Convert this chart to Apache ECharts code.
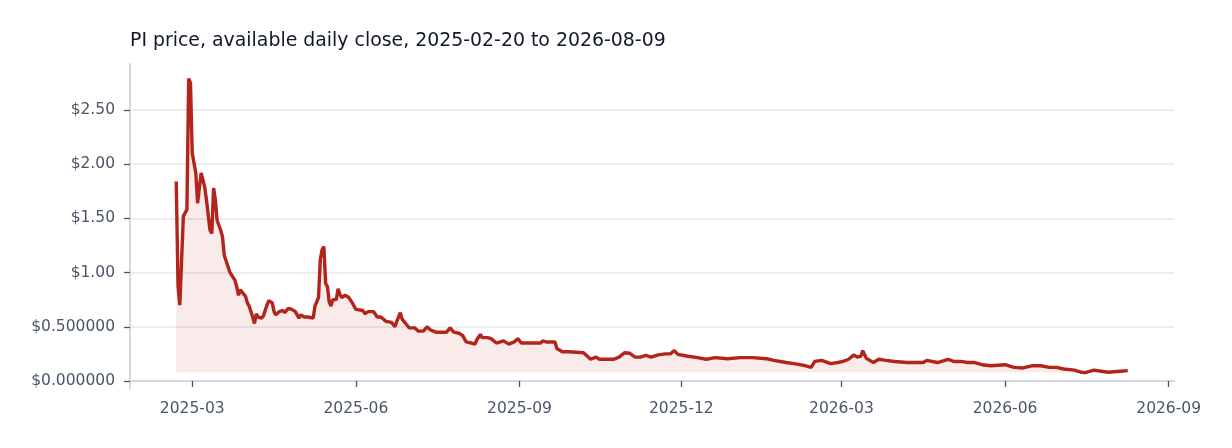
<!DOCTYPE html>
<html>
<head>
<meta charset="utf-8">
<title>PI price</title>
<script src="https://cdn.jsdelivr.net/npm/echarts@6/dist/echarts.min.js"></script>
<style>
  html,body{margin:0;padding:0;background:#fff}
  #chart{width:1232px;height:448px}
</style>
</head>
<body>
<div id="chart"></div>
<script>
// daily close readings
var dates = [
  '2025-02-20','2025-02-21','2025-02-22','2025-02-24','2025-02-25','2025-02-26','2025-02-27','2025-02-28','2025-03-01','2025-03-03',
  '2025-03-04','2025-03-06','2025-03-08','2025-03-09','2025-03-11','2025-03-12','2025-03-13','2025-03-14','2025-03-15','2025-03-17',
  '2025-03-18','2025-03-19','2025-03-20','2025-03-22','2025-03-23','2025-03-25','2025-03-26','2025-03-27','2025-03-28','2025-03-29',
  '2025-03-31','2025-04-01','2025-04-02','2025-04-04','2025-04-05','2025-04-06','2025-04-07','2025-04-09','2025-04-10','2025-04-11',
  '2025-04-12','2025-04-13','2025-04-14','2025-04-15','2025-04-16','2025-04-17','2025-04-19','2025-04-21','2025-04-22','2025-04-24',
  '2025-04-26','2025-04-28','2025-04-30','2025-05-01','2025-05-03','2025-05-05','2025-05-08','2025-05-09','2025-05-11','2025-05-12',
  '2025-05-13','2025-05-14','2025-05-15','2025-05-16','2025-05-17','2025-05-18','2025-05-19','2025-05-21','2025-05-22','2025-05-23',
  '2025-05-24','2025-05-26','2025-05-28','2025-05-30','2025-06-01','2025-06-05','2025-06-06','2025-06-08','2025-06-11','2025-06-13',
  '2025-06-15','2025-06-18','2025-06-21','2025-06-23','2025-06-24','2025-06-26','2025-06-27','2025-06-29','2025-07-01','2025-07-04',
  '2025-07-06','2025-07-09','2025-07-11','2025-07-13','2025-07-16','2025-07-19','2025-07-22','2025-07-24','2025-07-26','2025-07-29',
  '2025-07-31','2025-08-02','2025-08-05','2025-08-07','2025-08-08','2025-08-10','2025-08-11','2025-08-14','2025-08-16','2025-08-19',
  '2025-08-23','2025-08-26','2025-08-29','2025-08-31','2025-09-02','2025-09-05','2025-09-09','2025-09-13','2025-09-14','2025-09-16',
  '2025-09-21','2025-09-22','2025-09-25','2025-09-29','2025-10-07','2025-10-11','2025-10-14','2025-10-16','2025-10-20','2025-10-24',
  '2025-10-27','2025-10-30','2025-11-02','2025-11-05','2025-11-08','2025-11-11','2025-11-14','2025-11-18','2025-11-22','2025-11-25',
  '2025-11-27','2025-11-29','2025-12-04','2025-12-10','2025-12-15','2025-12-20','2025-12-27','2026-01-03','2026-01-10','2026-01-18',
  '2026-01-22','2026-01-29','2026-02-04','2026-02-09','2026-02-12','2026-02-14','2026-02-18','2026-02-23','2026-02-27','2026-03-02',
  '2026-03-05','2026-03-08','2026-03-10','2026-03-12','2026-03-13','2026-03-15','2026-03-17','2026-03-19','2026-03-22','2026-03-26',
  '2026-03-31','2026-04-07','2026-04-16','2026-04-18','2026-04-24','2026-04-30','2026-05-03','2026-05-07','2026-05-11','2026-05-15',
  '2026-05-19','2026-05-24','2026-06-01','2026-06-06','2026-06-11','2026-06-16','2026-06-21','2026-06-26','2026-06-30','2026-07-04',
  '2026-07-10','2026-07-14','2026-07-16','2026-07-21','2026-07-25','2026-07-29','2026-08-01','2026-08-05','2026-08-09'
];
var closes = [
  1.84, 0.88, 0.70, 1.52, 1.55, 1.58, 2.79, 2.75, 2.10, 1.92,
  1.64, 1.92, 1.79, 1.67, 1.39, 1.36, 1.78, 1.67, 1.48, 1.39,
  1.33, 1.16, 1.15, 1.01, 0.98, 0.93, 0.87, 0.79, 0.84, 0.82,
  0.78, 0.72, 0.69, 0.59, 0.53, 0.62, 0.59, 0.58, 0.60, 0.61,
  0.70, 0.74, 0.75, 0.72, 0.64, 0.61, 0.64, 0.65, 0.63, 0.67,
  0.66, 0.64, 0.58, 0.61, 0.59, 0.59, 0.58, 0.69, 0.77, 1.12,
  1.21, 1.24, 0.90, 0.87, 0.73, 0.69, 0.75, 0.75, 0.85, 0.80,
  0.77, 0.79, 0.77, 0.72, 0.66, 0.65, 0.62, 0.64, 0.64, 0.59,
  0.59, 0.55, 0.54, 0.50, 0.55, 0.63, 0.57, 0.53, 0.49, 0.49,
  0.46, 0.46, 0.50, 0.47, 0.45, 0.45, 0.45, 0.49, 0.45, 0.44,
  0.42, 0.36, 0.35, 0.34, 0.38, 0.43, 0.40, 0.40, 0.39, 0.35,
  0.37, 0.34, 0.36, 0.39, 0.35, 0.35, 0.35, 0.35, 0.37, 0.36,
  0.36, 0.30, 0.27, 0.27, 0.26, 0.20, 0.22, 0.20, 0.20, 0.20,
  0.22, 0.26, 0.255, 0.22, 0.22, 0.235, 0.22, 0.24, 0.25, 0.25,
  0.28, 0.245, 0.23, 0.215, 0.20, 0.215, 0.205, 0.215, 0.215, 0.205,
  0.19, 0.17, 0.155, 0.14, 0.125, 0.18, 0.19, 0.16, 0.17, 0.18,
  0.20, 0.24, 0.22, 0.23, 0.28, 0.21, 0.19, 0.17, 0.20, 0.19,
  0.18, 0.17, 0.17, 0.19, 0.17, 0.20, 0.18, 0.18, 0.17, 0.17,
  0.15, 0.14, 0.15, 0.125, 0.12, 0.14, 0.14, 0.125, 0.125, 0.11,
  0.10, 0.08, 0.077, 0.10, 0.09, 0.08, 0.085, 0.09, 0.095
];
var yTicks = [0, 0.5, 1, 1.5, 2, 2.5];
var xTickMonths = ['2025-03','2025-06','2025-09','2025-12','2026-03','2026-06','2026-09'];
var xRange = ['2025-01-25', '2026-09-04'];
var yRange = [-0.065, 2.924];

function toTime(s) {
  var p = s.split('-');
  return new Date(+p[0], +p[1] - 1, p[2] ? +p[2] : 1).getTime();
}

var seriesData = dates.map(function (d, i) { return [toTime(d), closes[i]]; });
var xTicks = xTickMonths.map(toTime);
var floor = Math.min.apply(null, closes);

var lineColor = '#b3241a';
var textColor = '#4b5568';

var myChart = echarts.init(document.getElementById('chart'), null, {renderer: 'canvas'});
var option = {
  animation: false,
  backgroundColor: '#ffffff',
  title: {
    text: 'PI price, available daily close, 2025-02-20 to 2026-08-09',
    left: 125,
    top: 27,
    textStyle: {
      fontFamily: 'DejaVu Sans',
      fontSize: 18.9,
      fontWeight: 'normal',
      color: '#111827'
    }
  },
  grid: {left: 130, right: 58, top: 64, bottom: 60},
  xAxis: {
    type: 'value',
    min: toTime(xRange[0]),
    max: toTime(xRange[1]),
    axisLine: {show: true, lineStyle: {color: '#d4d8de', width: 2}},
    axisTick: {show: true, length: 6, customValues: xTicks, lineStyle: {color: '#4b5568', width: 1.3}},
    splitLine: {show: false},
    axisLabel: {
      customValues: xTicks,
      color: textColor,
      fontFamily: 'DejaVu Sans',
      fontSize: 15.5,
      margin: 13,
      formatter: function (v) {
        var d = new Date(v);
        var m = d.getMonth() + 1;
        return d.getFullYear() + '-' + (m < 10 ? '0' + m : m);
      }
    }
  },
  yAxis: {
    type: 'value',
    min: yRange[0],
    max: yRange[1],
    axisLine: {show: true, lineStyle: {color: '#d4d8de', width: 2}},
    axisTick: {show: true, length: 6, customValues: yTicks, lineStyle: {color: '#4b5568', width: 1.3}},
    splitLine: {show: true, lineStyle: {color: '#e6e7ee', width: 1.5}},
    axisLabel: {
      customValues: yTicks,
      color: textColor,
      fontFamily: 'DejaVu Sans',
      fontSize: 15.5,
      margin: 15,
      formatter: function (v) {
        return v < 1 ? '$' + v.toFixed(6) : '$' + v.toFixed(2);
      }
    }
  },
  series: [{
    type: 'line',
    data: seriesData,
    showSymbol: false,
    smooth: false,
    lineStyle: {color: lineColor, width: 3.4},
    areaStyle: {color: lineColor, opacity: 0.09, origin: floor},
    z: 3
  }]
};
myChart.setOption(option);
</script>
</body>
</html>
